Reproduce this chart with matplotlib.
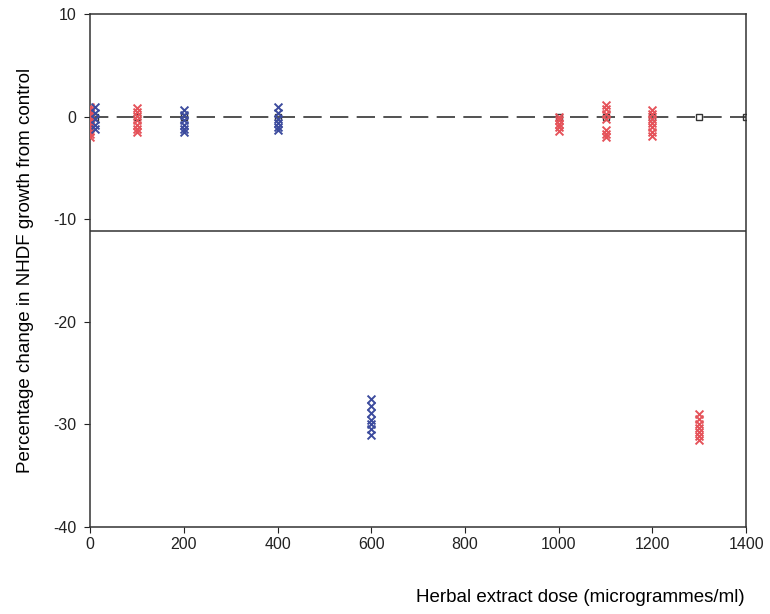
import matplotlib.pyplot as plt

plt.rcParams['font.family'] = ['Liberation Sans', 'DejaVu Sans']
plt.rcParams['axes.unicode_minus'] = False

# red series (dose, values)
red_doses = [0, 100, 1000, 1100, 1200, 1300]
red_vals = [
    [1.0, 0.7, 0.4, 0.1, -0.2, -0.5, -0.8, -1.1, -1.4, -1.7, -2.0],
    [0.9, 0.5, 0.1, -0.3, -0.8, -1.2, -1.5],
    [0.0, -0.3, -0.7, -1.0, -1.4],
    [1.2, 0.8, 0.3, -0.2, -1.3, -1.7, -2.0],
    [0.7, 0.3, -0.2, -0.6, -1.0, -1.5, -1.9],
    [-29.0, -29.5, -30.0, -30.3, -30.7, -31.1, -31.5],
]
# blue series
blue_doses = [10, 200, 400, 600]
blue_vals = [
    [1.0, 0.4, -0.2, -0.8, -1.2],
    [0.7, 0.2, -0.3, -0.8, -1.2, -1.5],
    [1.0, 0.4, -0.2, -0.6, -1.0, -1.3],
    [-27.5, -28.2, -28.9, -29.6, -30.0, -30.4, -31.0],
]
# dashed control line with square markers
ctrl_doses = [0, 10, 100, 200, 400, 1000, 1100, 1200, 1300, 1400]
ctrl_vals = [0, 0, 0, 0, 0, 0, 0, 0, 0, 0]
cutoff = -11.1

fig = plt.figure(figsize=(7.7, 6.14), dpi=100)
ax = fig.add_axes([0.117, 0.1417, 0.852, 0.835])

ax.axhline(cutoff, color='#333333', lw=1.1)
ax.plot(ctrl_doses, ctrl_vals, color='#333333', ls=(0, (11, 5)), lw=1.2,
        marker='s', ms=5, mfc='none', mec='#333333', mew=1.0, zorder=2)

for d, vals in zip(red_doses, red_vals):
    ax.scatter([d] * len(vals), vals, marker='x', s=32, color='#e5535a', lw=1.4, zorder=3)
for d, vals in zip(blue_doses, blue_vals):
    ax.scatter([d] * len(vals), vals, marker='x', s=32, color='#3d4c9e', lw=1.4, zorder=3)

ax.set_xlim(0, 1400)
ax.set_ylim(-40, 10)
ax.set_xticks(range(0, 1401, 200))
ax.set_yticks(range(-40, 11, 10))
ax.tick_params(labelsize=11.5, direction='out', length=4, colors='#222222')
ax.tick_params(axis='y', pad=6)
for s in ax.spines.values():
    s.set_color('#333333')
    s.set_linewidth(1.1)

ax.set_ylabel('Percentage change in NHDF growth from control', fontsize=13.5, labelpad=14)
fig.text(745 / 770, 1 - 598 / 614, 'Herbal extract dose (microgrammes/ml)',
         ha='right', va='center', fontsize=13.5)

fig.savefig('out.png', dpi=100)
